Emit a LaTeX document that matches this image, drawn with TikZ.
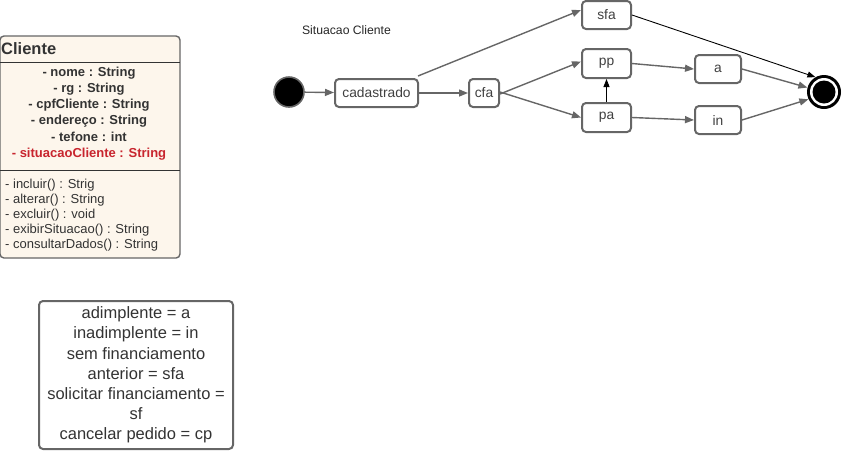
\documentclass[tikz,border=0pt]{standalone}
\usepackage{fontspec}
\setmainfont{Liberation Sans}
\usetikzlibrary{arrows.meta}
\definecolor{edgegray}{HTML}{666666}
\definecolor{classfill}{HTML}{FDF6EC}
\definecolor{attrred}{HTML}{C8252E}
\tikzset{
  statebox/.style={draw=edgegray, line width=2pt, rounded corners=4pt, fill=white,
    inner sep=0pt, font=\fontsize{13.8}{16}\selectfont, text=black!75},
  flow/.style={draw=edgegray, line width=1.4pt, -{Triangle[length=9pt,width=7pt]}},
  thinflow/.style={draw=black, line width=0.9pt, -{Triangle[length=8pt,width=6pt]}},
  classtxt/.style={font=\fontsize{13}{15}\selectfont, text=black!80, inner sep=0pt},
  attrtxt/.style={classtxt, font=\fontsize{13}{15}\selectfont\bfseries},
}
\begin{document}
\begin{tikzpicture}[x=1pt,y=-1pt]
\useasboundingbox (0,0) rectangle (842,451);

% class box
\draw[edgegray, line width=1.4pt, fill=classfill, rounded corners=4pt] (0,36) rectangle (180,258);
\draw[black!80, line width=0.9pt] (0,62) -- (180,62);
\draw[black!80, line width=0.9pt] (0,170) -- (180,170);
\node[anchor=west, inner sep=0pt, font=\fontsize{16.5}{18}\selectfont\bfseries, text=black!80] (ctitle) at (1,49) {Cliente};
\node[attrtxt] (at1) at (89,73) {- nome : String};
\node[attrtxt] (at2) at (89,89) {- rg : String};
\node[attrtxt] (at3) at (89,105) {- cpfCliente : String};
\node[attrtxt] (at4) at (89,121) {- endereço : String};
\node[attrtxt] (at5) at (89,137) {- tefone : int};
\node[attrtxt, text=attrred] (at6) at (89,154) {- situacaoCliente : String};
\node[classtxt, anchor=west] (m1) at (5,185) {- incluir() : Strig};
\node[classtxt, anchor=west] (m2) at (5,200) {- alterar() : String};
\node[classtxt, anchor=west] (m3) at (5,215) {- excluir() : void};
\node[classtxt, anchor=west] (m4) at (5,230) {- exibirSituacao() : String};
\node[classtxt, anchor=west] (m5) at (5,245) {- consultarDados() : String};

% legend
\node[draw=edgegray, line width=2pt, rounded corners=4pt, minimum width=194pt, minimum height=148pt,
  align=center, font=\fontsize{16.5}{20.2}\selectfont, text=black!80, inner sep=0pt] (legend) at (136,375)
  {adimplente = a\\inadimplente = in\\sem financiamento\\anterior = sfa\\solicitar financiamento =\\sf\\cancelar pedido = cp};

% state diagram
\node[font=\fontsize{12.2}{14}\selectfont, text=black!85] (title) at (346.5,30) {Situacao Cliente};
\node[circle, draw=edgegray, line width=1.6pt, fill=black, minimum size=30pt, inner sep=0pt] (init) at (289,92) {};
\node[statebox, minimum width=83pt, minimum height=28pt] (cad) at (376.5,93) {cadastrado};
\node[statebox, minimum width=30pt, minimum height=28pt] (cfa) at (484,93) {cfa};
\node[statebox, minimum width=49pt, minimum height=28pt] (sfa) at (606.5,15) {sfa};
\node[statebox, minimum width=49pt, minimum height=29pt] (pp) at (606.5,63.5) {pp};
\node[statebox, minimum width=49pt, minimum height=29pt] (pa) at (606.5,117.5) {pa};
\node[statebox, minimum width=46pt, minimum height=28pt] (a) at (718,69) {a};
\node[statebox, minimum width=46pt, minimum height=28pt] (in) at (718,120) {in};
\node[circle, fill=black, minimum size=34pt, inner sep=0pt] (final) at (824,92) {};
\fill[white] (final.center) circle (14pt);
\fill[black] (final.center) circle (11.5pt);

\draw[flow] (init) -- (cad);
\draw[flow] ([xshift=-1pt,yshift=2pt]cad.north east) -- ([yshift=5pt]sfa.west);
\draw[flow] (cad) -- (cfa);
\draw[flow] ([yshift=-1pt]cfa.east) -- ([yshift=2pt]pp.west);
\draw[flow] ([yshift=1pt]cfa.east) -- (pa.west);
\draw[thinflow] (pa.north) -- (pp.south);
\draw[flow] (pp.east) -- (a.west);
\draw[flow] (pa.east) -- (in.west);
\draw[thinflow] (sfa.east) -- (final.120);
\draw[flow] (a.east) -- (final.165);
\draw[flow] (in.east) -- (final.205);
\end{tikzpicture}
\end{document}
